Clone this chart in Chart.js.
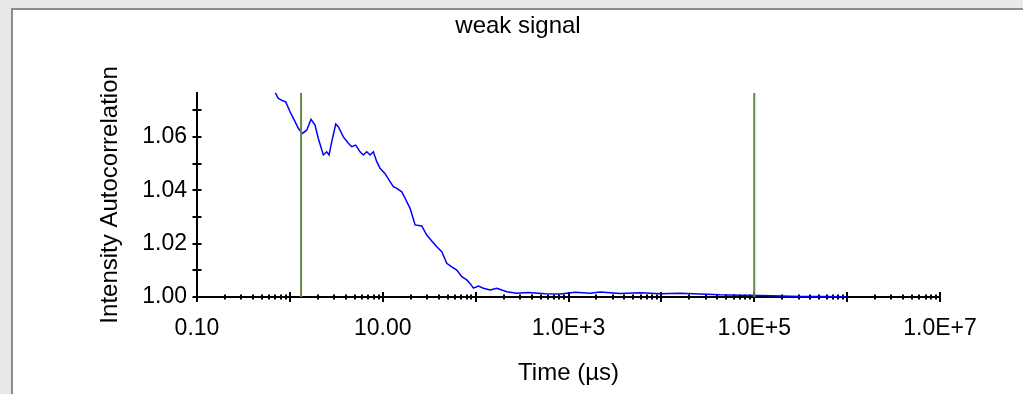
<!DOCTYPE html>
<html>
<head>
<meta charset="utf-8">
<script src="https://cdn.jsdelivr.net/npm/chart.js@4.4.1/dist/chart.umd.min.js"></script>
<style>
  html, body { margin: 0; padding: 0; width: 1023px; height: 394px; overflow: hidden; background: #e9e9e9; }
  #frame { position: absolute; left: 11px; top: 8px; width: 1030px; height: 400px; background: #fff;
           border-left: 2px solid #8c8c8c; border-top: 2px solid #8c8c8c; }
  #chart { position: absolute; left: 0; top: 0; }
</style>
</head>
<body>
<div id="frame"></div>
<canvas id="chart" width="1023" height="394"></canvas>
<script>
// texts
const chartTitle = 'weak signal';
const xAxisTitle = 'Time (µs)';
const yAxisTitle = 'Intensity Autocorrelation';

// measured curve (time in µs, intensity autocorrelation)
const times = [
  0.692, 0.751, 0.850, 0.902, 1.004, 1.136, 1.233, 1.362, 1.518, 1.689,
  1.866, 2.024, 2.291, 2.492, 2.641, 2.825, 3.118, 3.324, 3.764, 4.260,
  4.634, 5.117, 5.70, 6.18, 6.73, 7.30, 7.92, 8.62, 9.35, 10.6,
  11.99, 13.01, 14.15, 16.03, 17.39, 19.68, 20.5, 22.28, 26.31, 29.77,
  33.71, 38.17, 43.17, 48.89, 55.35, 62.66, 70.96, 80.35, 87.1, 94.6,
  107.1, 121.1, 143.2, 169.0, 191.4, 216.4, 277.3, 369.8, 560, 812,
  1178, 1710, 2190, 3594, 5904, 9690, 15920, 26120, 42950, 70470,
  115700, 199500, 311900, 511800, 952500
];
const correlation = [
  1.0767, 1.0744, 1.0734, 1.0731, 1.0694, 1.0657, 1.0632, 1.0613, 1.0625, 1.0666,
  1.0644, 1.0594, 1.0532, 1.0544, 1.0532, 1.0582, 1.0648, 1.0638, 1.0600, 1.0576,
  1.0563, 1.0569, 1.0544, 1.0532, 1.0544, 1.0532, 1.0544, 1.0507, 1.0482, 1.0462,
  1.0432, 1.0413, 1.0407, 1.0394, 1.0370, 1.0332, 1.0313, 1.0270, 1.0266, 1.0232,
  1.0210, 1.0188, 1.0170, 1.0126, 1.0113, 1.0101, 1.0076, 1.0064, 1.0051, 1.0033,
  1.0041, 1.0033, 1.0026, 1.0033, 1.0026, 1.0020, 1.0014, 1.0017, 1.0012, 1.0011,
  1.0018, 1.0014, 1.0019, 1.0013, 1.0016, 1.0012, 1.0014, 1.0011, 1.0008, 1.0007,
  1.0006, 1.0004, 1.0002, 1.0002, 1.0001
];

// vertical marker lines (fit range)
const markerTimes = [1.32, 1.0e5];

// axes
const xMin = 0.1, xMax = 1e7;
const yMin = 1.0, yMax = 1.0765;
const xDecades = [0.1, 1, 10, 100, 1e3, 1e4, 1e5, 1e6, 1e7];
const xLabelValues = [0.1, 10, 1e3, 1e5, 1e7];
const xLabelTexts = ['0.10', '10.00', '1.0E+3', '1.0E+5', '1.0E+7'];
const yTickValues = [1.00, 1.01, 1.02, 1.03, 1.04, 1.05, 1.06, 1.07];
const yTickTexts = ['1.00', '', '1.02', '', '1.04', '', '1.06', ''];

const fontFamily = '"Liberation Sans", Arial, sans-serif';
const markerColor = '#66864a';

// ticks 1..9 in every decade
const xAllTicks = [];
for (let i = 0; i < xDecades.length - 1; i++) {
  for (let m = 1; m < 10; m++) xAllTicks.push(xDecades[i] * m);
}
xAllTicks.push(xDecades[xDecades.length - 1]);

// tick marks that cross the axis line, like the original program draws them
const crossTicks = {
  id: 'crossTicks',
  beforeDatasetsDraw(chart) {
    const { ctx, scales: { x, y } } = chart;
    ctx.save();
    ctx.strokeStyle = '#000';
    ctx.lineWidth = 2;
    ctx.beginPath();
    x.ticks.forEach(t => {
      const px = Math.round(x.getPixelForValue(t.value));
      const h = xDecades.includes(t.value) ? 5 : 2.5;
      ctx.moveTo(px, y.bottom - h);
      ctx.lineTo(px, y.bottom + h);
    });
    y.ticks.forEach(t => {
      const py = Math.round(y.getPixelForValue(t.value));
      ctx.moveTo(x.left - 4.5, py);
      ctx.lineTo(x.left + 4.5, py);
    });
    ctx.stroke();
    ctx.restore();
  }
};

const markerSets = markerTimes.map(t => ({
  data: [{ x: t, y: yMin }, { x: t, y: yMax }],
  borderColor: markerColor,
  borderWidth: 2,
  pointRadius: 0
}));

new Chart(document.getElementById('chart'), {
  type: 'line',
  data: {
    datasets: [
      ...markerSets,
      {
        data: times.map((t, i) => ({ x: t, y: correlation[i] })),
        borderColor: '#0000ff',
        borderWidth: 1.5,
        pointRadius: 0,
        tension: 0
      }
    ]
  },
  options: {
    responsive: false,
    animation: false,
    layout: { padding: { left: 96, right: 83, top: 0, bottom: 0 } },
    plugins: {
      legend: { display: false },
      tooltip: { enabled: false },
      title: {
        display: true,
        text: chartTitle,
        color: '#000',
        font: { family: fontFamily, size: 24, weight: 'normal' },
        padding: { top: 12, bottom: 52 }
      }
    },
    scales: {
      x: {
        type: 'logarithmic',
        position: 'bottom',
        min: xMin,
        max: xMax,
        grid: { display: false, drawTicks: false },
        border: { display: true, color: '#000', width: 2 },
        afterBuildTicks: scale => { scale.ticks = xAllTicks.map(v => ({ value: v })); },
        afterFit: scale => { scale.height = 97; },
        ticks: {
          autoSkip: false,
          maxRotation: 0,
          padding: 18,
          color: '#000',
          font: { family: fontFamily, size: 23 },
          callback: value => {
            const i = xLabelValues.findIndex(v => Math.abs(v - value) / v < 1e-9);
            return i >= 0 ? xLabelTexts[i] : '';
          }
        },
        title: {
          display: true,
          text: xAxisTitle,
          color: '#000',
          font: { family: fontFamily, size: 24 },
          padding: { top: 0, bottom: 6 }
        }
      },
      y: {
        type: 'linear',
        min: yMin,
        max: yMax,
        grid: { display: false, drawTicks: false },
        border: { display: true, color: '#000', width: 2 },
        afterBuildTicks: scale => { scale.ticks = yTickValues.map(v => ({ value: v })); },
        afterFit: scale => { scale.width = 101; },
        ticks: {
          autoSkip: false,
          padding: 10,
          color: '#000',
          font: { family: fontFamily, size: 23 },
          callback: (value, index) => yTickTexts[index]
        },
        title: {
          display: true,
          text: yAxisTitle,
          color: '#000',
          font: { family: fontFamily, size: 24 },
          padding: { top: 0, bottom: 0 }
        }
      }
    }
  },
  plugins: [crossTicks]
});
</script>
</body>
</html>
